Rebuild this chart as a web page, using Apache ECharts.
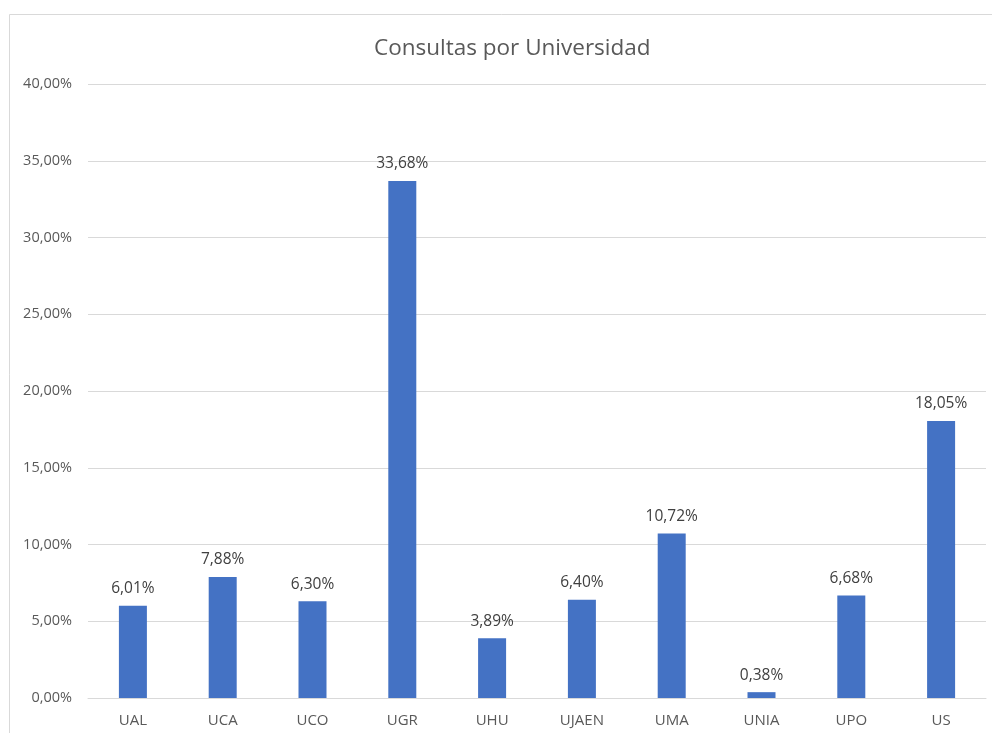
<!DOCTYPE html>
<html>
<head>
<meta charset="utf-8">
<script src="https://cdn.jsdelivr.net/npm/echarts@6/dist/echarts.min.js"></script>
<style>html,body{margin:0;padding:0;background:#fff;}#c{width:992px;height:733px;}</style>
</head>
<body>
<div id="c"></div>
<script>
const categories = ['UAL','UCA','UCO','UGR','UHU','UJAEN','UMA','UNIA','UPO','US'];
const values = [6.01, 7.88, 6.30, 33.68, 3.89, 6.40, 10.72, 0.38, 6.68, 18.05];
const titleText = 'Consultas por Universidad';

const fmt = v => v.toFixed(2).replace('.', ',') + '%';
const font = '"Open Sans", "Noto Sans", sans-serif';
const chart = echarts.init(document.getElementById('c'), null, {renderer: 'canvas'});
chart.setOption({
  animation: false,
  backgroundColor: '#fff',
  title: {
    text: titleText, left: 369, top: 32,
    textStyle: {fontFamily: font, fontSize: 22.5, fontWeight: 'normal', color: '#595959'}
  },
  graphic: [{
    type: 'rect', shape: {x: 9.5, y: 14.5, width: 1200, height: 1200},
    style: {fill: 'none', stroke: '#d9d9d9', lineWidth: 1}, z: -1
  }],
  grid: {left: 88, right: 6, top: 84, bottom: 35, containLabel: false},
  xAxis: {
    type: 'category', data: categories,
    axisLine: {lineStyle: {color: '#d9d9d9'}},
    axisTick: {show: false},
    axisLabel: {fontFamily: font, fontSize: 15, color: '#595959', margin: 15}
  },
  yAxis: {
    type: 'value', min: 0, max: 40, interval: 5,
    axisLine: {show: false}, axisTick: {show: false},
    splitLine: {lineStyle: {color: '#d9d9d9'}},
    axisLabel: {fontFamily: font, fontSize: 14.5, color: '#595959', margin: 16, formatter: v => fmt(v)}
  },
  series: [{
    type: 'bar', data: values, barWidth: 28,
    itemStyle: {color: '#4472c4'},
    label: {show: true, position: 'top', distance: 9, fontFamily: font, fontSize: 15.5, color: '#404040', formatter: p => fmt(p.value)}
  }]
});
</script>
</body>
</html>
